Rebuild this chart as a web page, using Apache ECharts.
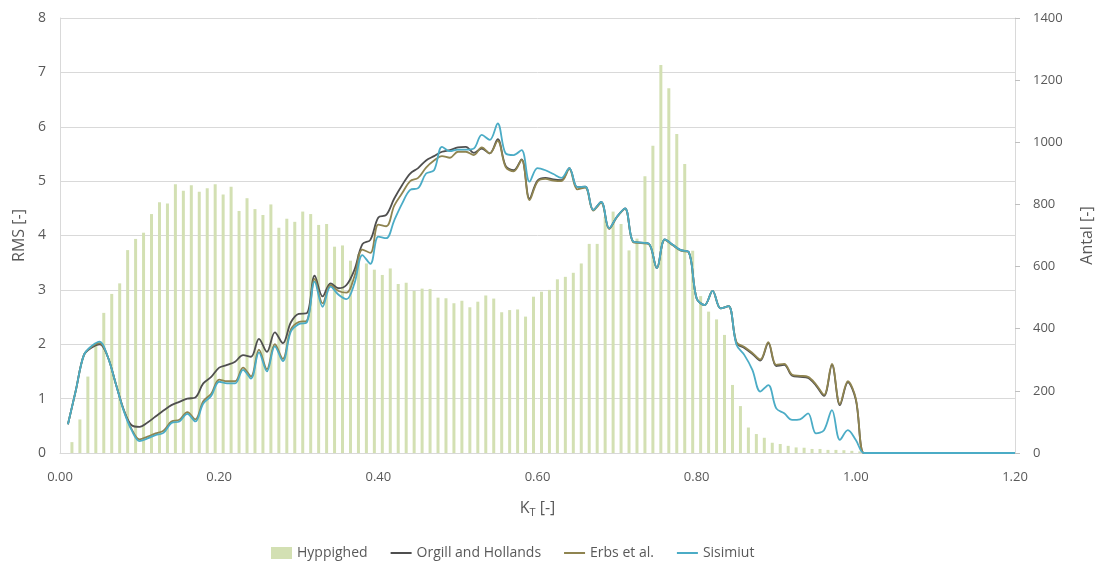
<!DOCTYPE html>
<html><head><meta charset="utf-8">
<script src="https://cdn.jsdelivr.net/npm/echarts@6/dist/echarts.min.js"></script>
<style>html,body{margin:0;padding:0;background:#fff}#c{width:1098px;height:561px}</style>
</head><body><div id="c"></div>
<script>
// KT bin upper edges / line x positions
const kt = [0.01,0.02,0.03,0.04,0.05,0.06,0.07,0.08,0.09,0.10,
0.11,0.12,0.13,0.14,0.15,0.16,0.17,0.18,0.19,0.20,
0.21,0.22,0.23,0.24,0.25,0.26,0.27,0.28,0.29,0.30,
0.31,0.32,0.33,0.34,0.35,0.36,0.37,0.38,0.39,0.40,
0.41,0.42,0.43,0.44,0.45,0.46,0.47,0.48,0.49,0.50,
0.51,0.52,0.53,0.54,0.55,0.56,0.57,0.58,0.59,0.60,
0.61,0.62,0.63,0.64,0.65,0.66,0.67,0.68,0.69,0.70,
0.71,0.72,0.73,0.74,0.75,0.76,0.77,0.78,0.79,0.80,
0.81,0.82,0.83,0.84,0.85,0.86,0.87,0.88,0.89,0.90,
0.91,0.92,0.93,0.94,0.95,0.96,0.97,0.98,0.99,1.00,
1.01,1.02,1.03,1.04,1.05,1.06,1.07,1.08,1.09,1.10,
1.11,1.12,1.13,1.14,1.15,1.16,1.17,1.18,1.19,1.20];

const hyppighed = [0,35,108,246,355,451,512,546,653,689,
709,769,807,803,865,844,862,841,852,865,
832,857,779,820,785,766,800,725,754,744,
777,769,734,737,664,668,619,640,610,590,
573,594,544,548,522,529,528,500,498,482,
490,469,487,507,497,453,460,462,439,503,
519,525,559,567,580,610,673,673,760,777,
737,652,690,891,989,1249,1174,1027,930,651,
505,455,430,380,219,151,82,61,49,33,
29,23,18,17,13,13,10,10,9,7,
5,0,0,0,0,0,0,0,0,0,
0,0,0,0,0,0,0,0,0,0];

const orgill = [0.53,1.16,1.80,1.94,2.00,1.77,1.28,0.80,0.51,0.48,
0.56,0.67,0.78,0.88,0.94,1.00,1.02,1.28,1.40,1.57,
1.62,1.68,1.80,1.77,2.10,1.86,2.22,2.02,2.40,2.56,
2.57,3.26,2.88,3.12,3.03,3.09,3.37,3.84,3.92,4.33,
4.38,4.68,4.93,5.14,5.24,5.38,5.46,5.54,5.57,5.62,
5.63,5.52,5.60,5.51,5.77,5.28,5.20,5.40,4.68,5.01,
5.06,5.03,5.02,5.24,4.89,4.90,4.47,4.62,4.13,4.35,
4.50,3.89,3.87,3.85,3.40,3.93,3.83,3.73,3.70,2.84,
2.72,2.98,2.66,2.70,2.02,1.93,1.82,1.70,2.02,1.60,
1.62,1.42,1.40,1.38,1.24,1.05,1.62,0.88,1.30,0.98,
0,0,0,0,0,0,0,0,0,0,
0,0,0,0,0,0,0,0,0,0];

const erbs = [0.53,1.16,1.80,1.96,2.02,1.77,1.28,0.79,0.44,0.25,
0.30,0.36,0.41,0.58,0.61,0.75,0.62,0.95,1.09,1.35,
1.32,1.32,1.57,1.41,1.90,1.54,2.00,1.73,2.27,2.41,
2.43,3.20,2.75,3.09,2.98,2.95,3.25,3.74,3.68,4.20,
4.17,4.55,4.78,5.00,5.06,5.25,5.38,5.46,5.43,5.54,
5.54,5.48,5.62,5.51,5.74,5.26,5.18,5.39,4.65,4.99,
5.04,5.01,5.00,5.22,4.85,4.88,4.46,4.60,4.12,4.34,
4.49,3.88,3.86,3.84,3.40,3.92,3.82,3.72,3.69,2.84,
2.72,2.98,2.66,2.70,2.04,1.95,1.84,1.72,2.04,1.62,
1.64,1.44,1.42,1.40,1.26,1.07,1.64,0.90,1.32,1.00,
0,0,0,0,0,0,0,0,0,0,
0,0,0,0,0,0,0,0,0,0];

const sisimiut = [0.53,1.16,1.80,1.97,2.05,1.77,1.28,0.78,0.42,0.22,
0.27,0.33,0.37,0.55,0.58,0.72,0.58,0.91,1.05,1.31,
1.28,1.28,1.53,1.37,1.85,1.50,1.96,1.69,2.23,2.37,
2.40,3.15,2.69,3.06,2.91,2.83,3.12,3.64,3.48,3.98,
3.95,4.28,4.59,4.84,4.87,5.14,5.20,5.63,5.55,5.58,
5.58,5.60,5.85,5.76,6.06,5.51,5.48,5.57,4.99,5.24,
5.20,5.13,5.06,5.24,4.89,4.90,4.47,4.62,4.13,4.35,
4.50,3.89,3.87,3.85,3.40,3.93,3.83,3.73,3.70,2.84,
2.72,2.98,2.66,2.70,1.99,1.80,1.53,1.13,1.25,0.82,
0.73,0.61,0.62,0.73,0.36,0.42,0.79,0.24,0.42,0.24,
0,0,0,0,0,0,0,0,0,0,
0,0,0,0,0,0,0,0,0,0];

const xTicks = {min: 0, max: 1.2, interval: 0.2};
const rmsTicks = {min: 0, max: 8, interval: 1};
const antalTicks = {min: 0, max: 1400, interval: 200};

const FONT = 'Open Sans';
const TXT = '#595959';
const chart = echarts.init(document.getElementById('c'));
const pairs = arr => kt.map((x, i) => [x, arr[i]]);
const lineSeries = (name, arr, color) => ({
  name, type: 'line', xAxisIndex: 0, yAxisIndex: 0, data: pairs(arr),
  smooth: 0.35, symbol: 'none', showSymbol: false,
  lineStyle: {color, width: 1.8}, itemStyle: {color}, z: 3, animation: false
});
const hiddenSymbol = {opacity: 0};
chart.setOption({
  animation: false,
  backgroundColor: '#fff',
  textStyle: {fontFamily: FONT},
  grid: {left: 60, right: 83, top: 18, bottom: 108, containLabel: false, outerBoundsMode: 'none'},
  legend: {
    top: 541, left: 266, itemGap: 22, itemWidth: 21, itemHeight: 12,
    textStyle: {color: TXT, fontSize: 14, fontFamily: FONT},
    data: [
      {name: 'Hyppighed', icon: 'rect'},
      {name: 'Orgill and Hollands', itemStyle: hiddenSymbol},
      {name: 'Erbs et al.', itemStyle: hiddenSymbol},
      {name: 'Sisimiut', itemStyle: hiddenSymbol}
    ]
  },
  xAxis: [{
    type: 'value', min: xTicks.min, max: xTicks.max, interval: xTicks.interval,
    axisLine: {show: true, lineStyle: {color: '#d9d9d9'}},
    axisTick: {show: false}, splitLine: {show: false},
    axisLabel: {color: TXT, fontSize: 13, margin: 18, formatter: v => v.toFixed(2)},
    name: '{a|K}{s|T}{a| [-]}', nameLocation: 'middle', nameGap: 46,
    nameTextStyle: {rich: {
      a: {fontSize: 16, color: TXT, fontFamily: FONT},
      s: {fontSize: 11, color: TXT, fontFamily: FONT, verticalAlign: 'bottom', padding: [8, 0, 0, 0]}
    }}
  }, {
    type: 'category', data: kt, show: false, boundaryGap: true
  }],
  yAxis: [{
    type: 'value', min: rmsTicks.min, max: rmsTicks.max, interval: rmsTicks.interval,
    position: 'left',
    axisLine: {show: true, lineStyle: {color: '#d9d9d9'}},
    axisTick: {show: false},
    splitLine: {show: true, lineStyle: {color: '#d9d9d9', width: 1}},
    axisLabel: {color: TXT, fontSize: 14, margin: 14},
    name: 'RMS [-]', nameLocation: 'middle', nameGap: 33, nameRotate: 90,
    nameTextStyle: {color: TXT, fontSize: 16, fontFamily: FONT}
  }, {
    type: 'value', min: antalTicks.min, max: antalTicks.max, interval: antalTicks.interval,
    position: 'right',
    axisLine: {show: true, lineStyle: {color: '#d9d9d9'}},
    axisTick: {show: true, inside: false, length: 5, lineStyle: {color: '#bfbfbf'}},
    splitLine: {show: false},
    axisLabel: {color: TXT, fontSize: 13, margin: 18, formatter: v => String(v)},
    name: 'Antal [-]', nameLocation: 'middle', nameGap: 64, nameRotate: 90,
    nameTextStyle: {color: TXT, fontSize: 16, fontFamily: FONT}
  }],
  series: [
    {name: 'Hyppighed', type: 'bar', xAxisIndex: 1, yAxisIndex: 1, data: hyppighed,
     barWidth: 3, itemStyle: {color: '#d3e0b3'}, z: 2, animation: false},
    lineSeries('Orgill and Hollands', orgill, '#4f4f4f'),
    lineSeries('Erbs et al.', erbs, '#8f8450'),
    lineSeries('Sisimiut', sisimiut, '#4bacc6')
  ]
});
</script>
</body></html>
